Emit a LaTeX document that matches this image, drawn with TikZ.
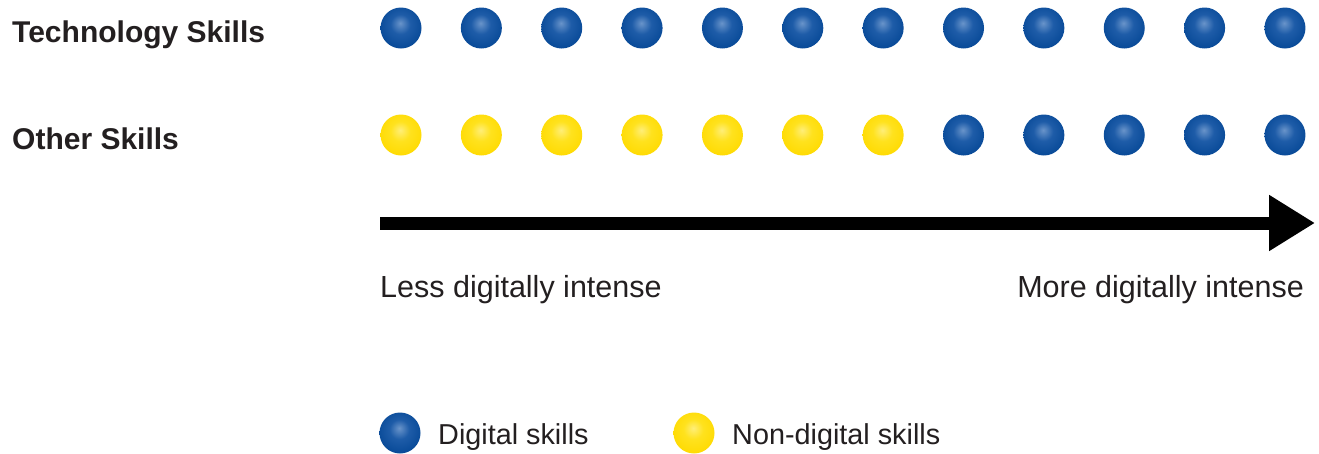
\documentclass[tikz,border=0pt]{standalone}
\usepackage{fontspec}
\setmainfont{Liberation Sans}
\usetikzlibrary{arrows.meta}

\definecolor{dotblue}{RGB}{6,72,150}
\definecolor{dotbluemid}{RGB}{30,92,168}
\definecolor{dotbluehi}{RGB}{105,148,202}
\definecolor{dotyellow}{RGB}{255,218,0}
\definecolor{dotyellowmid}{RGB}{255,226,30}
\definecolor{dotyellowhi}{RGB}{255,238,120}
\definecolor{ink}{RGB}{35,31,32}

\pgfdeclareradialshading{bluedot}{\pgfpoint{-1bp}{6bp}}{color(0bp)=(dotbluehi); color(12bp)=(dotbluemid); color(29bp)=(dotblue); color(50bp)=(dotblue)}
\pgfdeclareradialshading{yellowdot}{\pgfpoint{-1bp}{6bp}}{color(0bp)=(dotyellowhi); color(12bp)=(dotyellowmid); color(29bp)=(dotyellow); color(50bp)=(dotyellow)}

\tikzset{
  skilldot/.style={circle, minimum size=41pt, inner sep=0pt},
  digital/.style={skilldot, shading=bluedot},
  nondigital/.style={skilldot, shading=yellowdot},
  rowlabel/.style={anchor=base west, inner sep=0pt, font=\fontsize{30}{35}\selectfont\bfseries},
  axislabel/.style={inner sep=0pt, font=\fontsize{30.5}{36}\selectfont},
  legendlabel/.style={anchor=base west, inner sep=0pt, font=\fontsize{28.8}{34}\selectfont},
}

\begin{document}
\begin{tikzpicture}[x=1pt, y=-1pt, text=ink]
  \useasboundingbox (0,0) rectangle (1319,453);

  % row labels
  \node (tech) [rowlabel] at (12,42) {Technology Skills};
  \node (other) [rowlabel] at (12,149) {Other Skills};

  % technology skills row
  \foreach \i in {1,...,12}
    \node (t\i) [digital] at ({401+80.36*(\i-1)},28) {};
  % other skills row
  \foreach \i in {1,...,7}
    \node (o\i) [nondigital] at ({401+80.36*(\i-1)},135) {};
  \foreach \i in {8,...,12}
    \node (o\i) [digital] at ({401+80.36*(\i-1)},135) {};

  % axis
  \coordinate (axisstart) at (380,223);
  \coordinate (axisend) at (1315,223);
  \draw[line width=13pt, -{Triangle[length=46pt,width=53pt]}] (axisstart) -- (axisend);
  \node (less) [axislabel, anchor=base west] at (380,297) {Less digitally intense};
  \node (more) [axislabel, anchor=base east] at (1304,297) {More digitally intense};

  % legend
  \node (legdig) [digital] at (400,433) {};
  \node (legdigtext) [legendlabel] at (438,444) {Digital skills};
  \node (legnon) [nondigital] at (694,433) {};
  \node (legnontext) [legendlabel] at (732,444) {Non-digital skills};
\end{tikzpicture}
\end{document}
